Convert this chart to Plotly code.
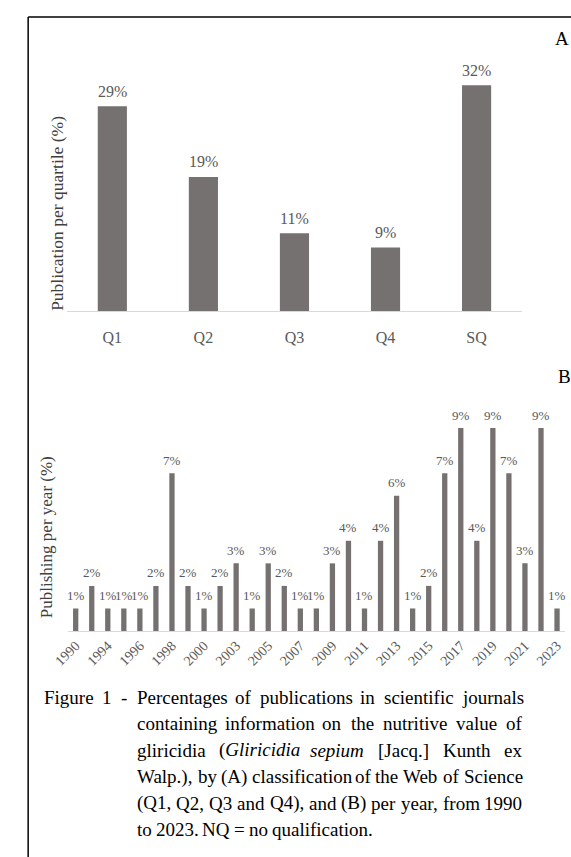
import re
import plotly.graph_objects as go

# ---- data -------------------------------------------------------------
quartiles = ["Q1", "Q2", "Q3", "Q4", "SQ"]
quartile_pct = [29, 19, 11, 9, 32]

years = ["1990", "1993", "1994", "1995", "1996", "1997", "1998", "1999", "2000",
         "2002", "2003", "2004", "2005", "2006", "2007", "2008", "2009", "2010",
         "2011", "2012", "2013", "2014", "2015", "2016", "2017", "2018", "2019",
         "2020", "2021", "2022", "2023"]
year_pct = [1, 2, 1, 1, 1, 2, 7, 2, 1, 2, 3, 1, 3, 2, 1, 1, 3, 4, 1, 4, 6, 1, 2,
            7, 9, 4, 9, 7, 3, 9, 1]
year_ticks = years[::2]

caption_lines = [
    "Figure 1 - Percentages of publications in scientific journals",
    "containing information on the nutritive value of",
    "gliricidia (<i>Gliricidia</i> <i>sepium</i> [Jacq.] Kunth ex",
    "Walp.), by (A) classification of the Web of Science",
    "(Q1, Q2, Q3 and Q4), and (B) per year, from 1990",
    "to 2023. NQ = no qualification.",
]

# ---- page geometry ----------------------------------------------------
W, H = 571, 857
SERIF = "Liberation Serif"
BAR = "#767171"
GREY_TXT = "#595959"
AXIS = "#d9d9d9"


def fx(px):
    return px / W


def fy(py):
    return 1 - py / H


fig = go.Figure()

# panel A: publications per quartile
fig.add_trace(go.Bar(x=quartiles, y=quartile_pct, marker_color=BAR,
                     marker_line_width=0, xaxis="x", yaxis="y",
                     hoverinfo="x+y"))
# panel B: publications per year
fig.add_trace(go.Bar(x=years, y=year_pct, marker_color=BAR,
                     marker_line_width=0, xaxis="x2", yaxis="y2",
                     width=0.33, hoverinfo="x+y"))

# value labels above the bars (category axes take the category index)
annotations = []
for i, v in enumerate(quartile_pct):
    annotations.append(dict(x=i, y=v, xref="x", yref="y", text=f"{v}%",
                            showarrow=False, xanchor="center",
                            yanchor="middle", yshift=15,
                            font=dict(family=SERIF, size=16, color=GREY_TXT)))
for i, v in enumerate(year_pct):
    annotations.append(dict(x=i, y=v, xref="x2", yref="y2", text=f"{v}%",
                            showarrow=False, xanchor="center",
                            yanchor="middle", yshift=13,
                            font=dict(family=SERIF, size=13, color=GREY_TXT)))

# axis titles and panel letters
annotations += [
    dict(x=fx(43), y=fy(213), xref="paper", yref="paper", textangle=-90,
         xanchor="center", yanchor="middle",
         text="Publication per quartile (%)", showarrow=False,
         font=dict(family=SERIF, size=17.5, color="#404040")),
    dict(x=fx(32), y=fy(537), xref="paper", yref="paper", textangle=-90,
         xanchor="center", yanchor="middle",
         text="Publishing per year (%)", showarrow=False,
         font=dict(family=SERIF, size=17, color="#404040")),
    dict(x=fx(562), y=fy(39), xref="paper", yref="paper", text="A",
         xanchor="center", yanchor="middle",
         showarrow=False, font=dict(family=SERIF, size=19, color="black")),
    dict(x=fx(564), y=fy(376), xref="paper", yref="paper", text="B",
         xanchor="center", yanchor="middle",
         showarrow=False, font=dict(family=SERIF, size=19, color="black")),
]

# ---- justified caption ------------------------------------------------
TIMES = {" ": 250, "(": 333, ")": 333, ",": 250, "-": 333, ".": 250,
         "=": 564, "[": 333, "]": 333, "%": 833}
for d in "0123456789":
    TIMES[d] = 500
TIMES.update(dict(zip("ABCDEFGHIJKLMNOPQRSTUVWXYZ",
                      [722, 667, 667, 722, 611, 556, 722, 722, 333, 389, 722,
                       611, 889, 722, 722, 556, 722, 667, 556, 611, 722, 722,
                       944, 722, 722, 611])))
TIMES.update(dict(zip("abcdefghijklmnopqrstuvwxyz",
                      [444, 500, 444, 500, 444, 333, 500, 500, 278, 278, 500,
                       278, 778, 500, 500, 500, 500, 333, 389, 278, 500, 500,
                       722, 500, 500, 444])))

CAP_SIZE = 19
CAP_LEFT, CAP_RIGHT = 28, 518
LINE_Y0, LINE_STEP = 697, 26.5


def word_width(word):
    plain = re.sub(r"<[^>]+>", "", word)
    return sum(TIMES.get(c, 500) for c in plain) / 1000 * CAP_SIZE


def place_line(words, left, right, y, justify=True):
    widths = [word_width(w) for w in words]
    if justify and len(words) > 1:
        gap = (right - left - sum(widths)) / (len(words) - 1)
    else:
        gap = TIMES[" "] / 1000 * CAP_SIZE
    x = left
    xs = []
    for w, wd in zip(words, widths):
        xs.append(x)
        annotations.append(dict(x=fx(x), y=fy(y), xref="paper", yref="paper",
                                text=w, showarrow=False, xanchor="left",
                                yanchor="middle",
                                font=dict(family=SERIF, size=CAP_SIZE,
                                          color="black")))
        x += wd + gap
    return xs


first = caption_lines[0].split(" ")
xs_first = place_line(first, CAP_LEFT, CAP_RIGHT, LINE_Y0)
indent = xs_first[first.index("Percentages")]
for i, line in enumerate(caption_lines[1:], start=1):
    place_line(line.split(" "), indent, CAP_RIGHT, LINE_Y0 + i * LINE_STEP,
               justify=(i < len(caption_lines) - 1))

# ---- frame ------------------------------------------------------------
shapes = [
    dict(type="line", xref="paper", yref="paper", x0=fx(13.5), x1=1.0,
         y0=fy(17), y1=fy(17), line=dict(color="black", width=1.5)),
    dict(type="line", xref="paper", yref="paper", x0=fx(13.5), x1=fx(13.5),
         y0=fy(17), y1=0, line=dict(color="black", width=1.5)),
]

fig.update_layout(
    width=W, height=H, margin=dict(l=0, r=0, t=0, b=0),
    paper_bgcolor="white", plot_bgcolor="white", showlegend=False,
    bargap=0.68,
    annotations=annotations, shapes=shapes,
    xaxis=dict(domain=[fx(53.2), fx(520.8)], anchor="y", type="category",
               range=[-0.5, len(quartiles) - 0.5],
               showline=True, linecolor=AXIS, linewidth=1, ticks="",
               showgrid=False, ticklabelstandoff=12,
               tickfont=dict(family=SERIF, size=16, color=GREY_TXT)),
    yaxis=dict(domain=[fy(311), fy(64)], range=[0, 35], anchor="x",
               visible=False, showgrid=False),
    xaxis2=dict(domain=[fx(54.1), fx(564.9)], anchor="y2", type="category",
                range=[-0.5, len(years) - 0.5],
                showline=True, linecolor=AXIS, linewidth=1, ticks="",
                showgrid=False, tickmode="array", tickvals=year_ticks,
                ticktext=year_ticks, tickangle=-45,
                tickfont=dict(family=SERIF, size=14, color=GREY_TXT)),
    yaxis2=dict(domain=[fy(631), fy(405.5)], range=[0, 10], anchor="x2",
                visible=False, showgrid=False),
)

fig.write_html("out.html")
